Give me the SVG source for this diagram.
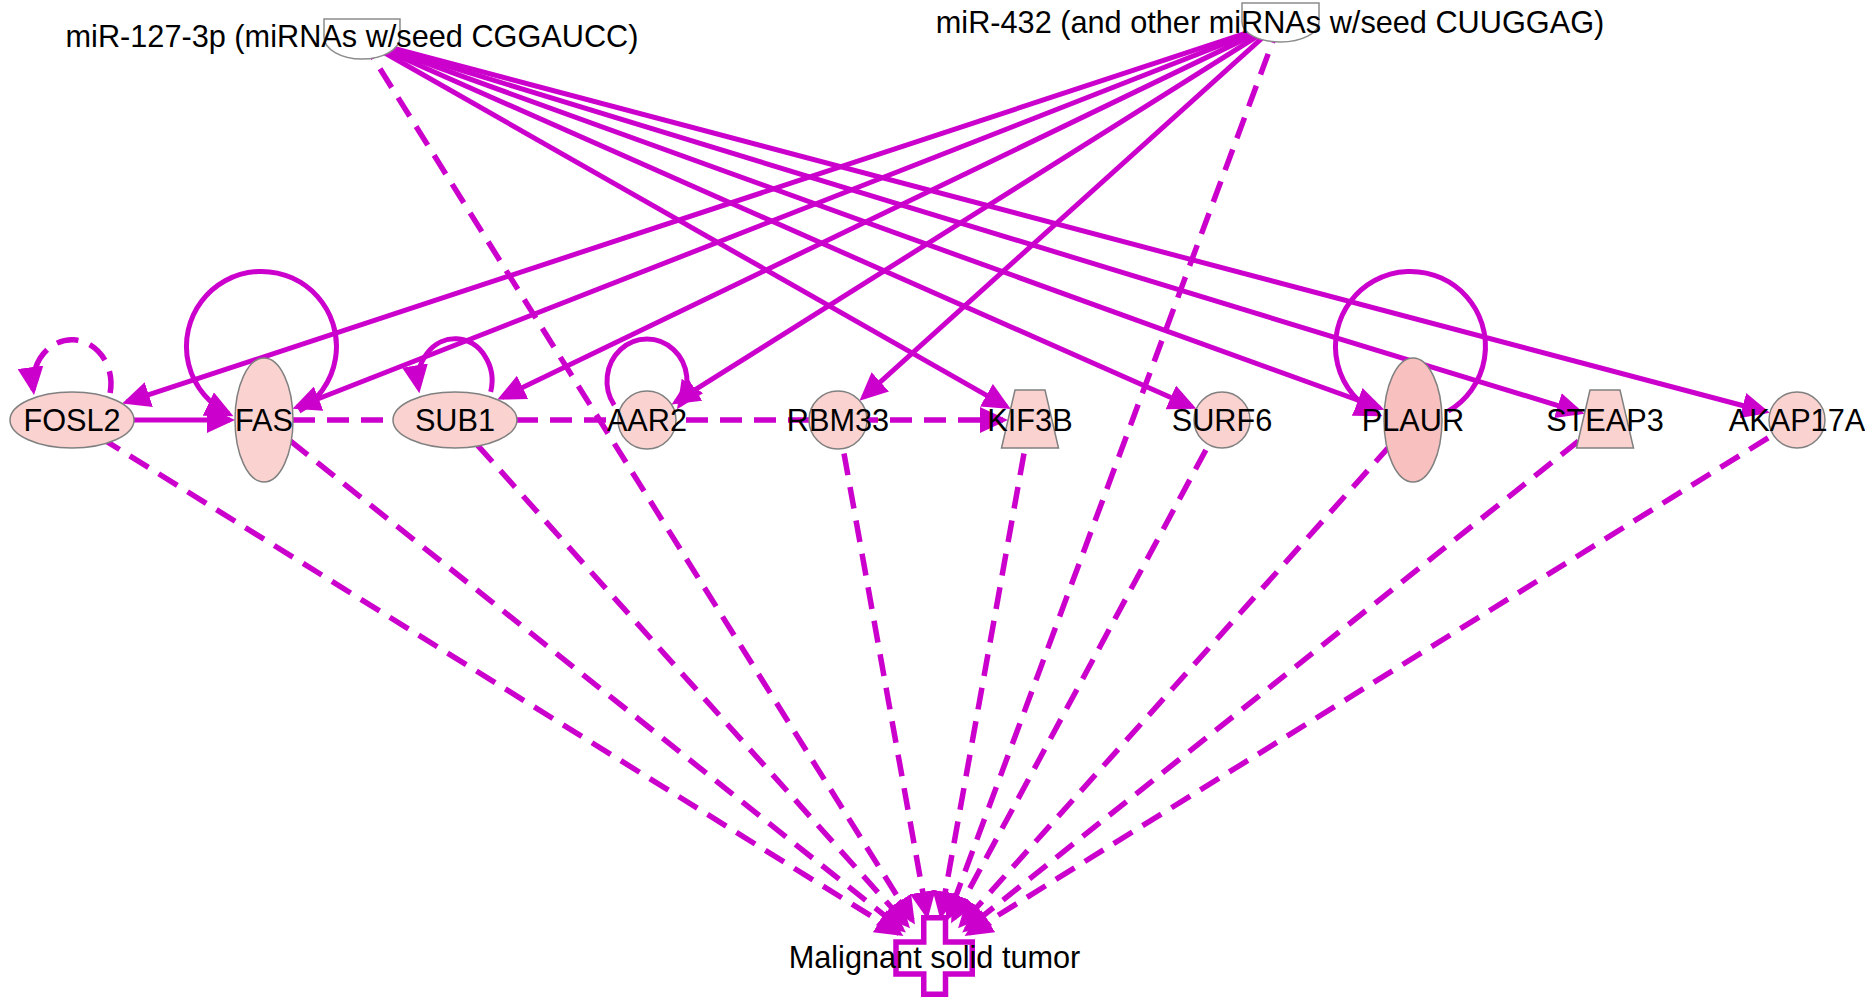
<svg xmlns="http://www.w3.org/2000/svg" width="1865" height="1001" viewBox="0 0 1865 1001">
<defs>
<marker id="arr" viewBox="0 0 28 26" markerUnits="userSpaceOnUse" markerWidth="28" markerHeight="26" refX="23" refY="13" orient="auto"><path d="M0,0 L28,13 L0,26 Z" fill="#CC00CC"/></marker>
<style>
.e{fill:none;stroke:#CC00CC;stroke-width:5}
.d{stroke-dasharray:22 12;stroke-width:5.5}
.a{marker-end:url(#arr)}
.n{fill:#FAD3D1;stroke:#808080;stroke-width:1.5}
.p{fill:#F8C1BF;stroke:#808080;stroke-width:1.5}
.m{fill:#FFFFFF;stroke:#8C8C8C;stroke-width:1.5}
.x{fill:#FFFFFF;stroke:#CC00CC;stroke-width:5.5}
.t{font-family:"Liberation Sans",Arial,sans-serif;font-size:30.7px;fill:#000;text-anchor:middle}
</style>
</defs>
<rect width="1865" height="1001" fill="#FFFFFF"/>
<g id="tumor-shape">
<path class="x" d="M923.75,917.75 H945.5 V942 H972.25 V974 H945.5 V994.25 H923.75 V974 H896 V942 H923.75 Z"/>
</g>
<g id="connectors">
<path class="e a" d="M1280,22 L126.9,401.9"/>
<path class="e a" d="M1280,22 L297.2,407"/>
<path class="e a" d="M1280,22 L501.9,397.4"/>
<path class="e a" d="M1280,22 L675.8,401.9"/>
<path class="e a" d="M1280,22 L863.2,397.3"/>
<path class="e a" d="M362,40 L1006.4,406.6"/>
<path class="e a" d="M362,40 L1191.8,406.7"/>
<path class="e a" d="M362,40 L1379.7,408"/>
<path class="e a" d="M362,40 L1579.9,412.3"/>
<path class="e a" d="M362,40 L1765.1,411.5"/>
<path class="e a" d="M134,420 L230,420"/>
<path class="e d" d="M293,420 L393,420"/>
<path class="e d a" d="M516,420 L1003,420"/>
<path class="e d a" d="M72,420 L899.2,933.4"/>
<path class="e d a" d="M264,420 L902,929.4"/>
<path class="e d a" d="M455,420 L906.7,924.5"/>
<path class="e d a" d="M362,40 L912.3,920.2"/>
<path class="e d a" d="M838,420 L926.8,914.6"/>
<path class="e d a" d="M1030,420 L941.2,914.6"/>
<path class="e d a" d="M1280,22 L948.3,916.6"/>
<path class="e d a" d="M1222,420 L953.4,918.9"/>
<path class="e d a" d="M1413,420 L961.4,924.5"/>
<path class="e d a" d="M1605,420 L966.1,929.4"/>
<path class="e d a" d="M1797,420 L968.8,933.4"/>
<path class="e d a" d="M110.1,393.1 A39,44 0 1 0 33.4,390.1"/>
<path class="e a" d="M299.2,411.2 A75,75 0 1 0 229,414"/>
<path class="e a" d="M490.7,391.9 A37,42 0 1 0 418.6,388.3"/>
<path class="e a" d="M614.2,405.1 A40,42 0 1 1 679.8,405.1"/>
<path class="e a" d="M1448.2,411.2 A75,75 0 1 0 1378,414"/>
</g>
<g id="mir127">
<path class="m" d="M324,19 L400,19 L400,37 A38,22 0 0 1 324,37 Z"/>
<text class="t" x="352" y="47">miR-127-3p (miRNAs w/seed CGGAUCC)</text>
</g>
<g id="mir432">
<path class="m" d="M1242,3 L1319,3 L1319,22 A38.5,20 0 0 1 1242,22 Z"/>
<text class="t" x="1270" y="33">miR-432 (and other miRNAs w/seed CUUGGAG)</text>
</g>
<g id="FOSL2"><ellipse class="n" cx="72" cy="420" rx="62" ry="28"/><text class="t" x="72" y="431">FOSL2</text></g>
<g id="FAS"><ellipse class="n" cx="264" cy="420" rx="29" ry="62"/><text class="t" x="264" y="431">FAS</text></g>
<g id="SUB1"><ellipse class="n" cx="455" cy="420" rx="62" ry="28"/><text class="t" x="455" y="431">SUB1</text></g>
<g id="AAR2"><circle class="n" cx="647" cy="420" r="29"/><text class="t" x="647" y="431">AAR2</text></g>
<g id="RBM33"><circle class="n" cx="838" cy="420" r="29"/><text class="t" x="838" y="431">RBM33</text></g>
<g id="KIF3B"><polygon class="n" points="1015,390 1045,390 1058.5,448 1001.5,448"/><text class="t" x="1030" y="431">KIF3B</text></g>
<g id="SURF6"><circle class="n" cx="1222" cy="420" r="28"/><text class="t" x="1222" y="431">SURF6</text></g>
<g id="PLAUR"><ellipse class="p" cx="1413" cy="420" rx="29" ry="62"/><text class="t" x="1413" y="431">PLAUR</text></g>
<g id="STEAP3"><polygon class="n" points="1590,390 1620,390 1633.5,448 1576.5,448"/><text class="t" x="1605" y="431">STEAP3</text></g>
<g id="AKAP17A"><circle class="n" cx="1797" cy="420" r="28"/><text class="t" x="1797" y="431">AKAP17A</text></g>
<g id="tumor-label">
<text class="t" x="934.5" y="968">Malignant solid tumor</text>
</g>
</svg>
